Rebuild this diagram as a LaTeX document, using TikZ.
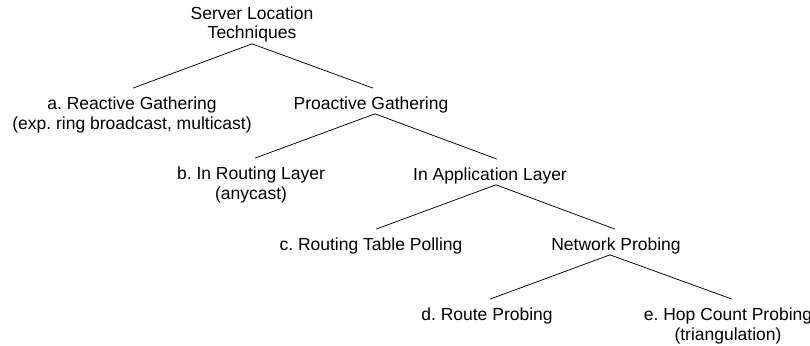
\documentclass[tikz,border=0pt]{standalone}
\usepackage{fontspec}
\setmainfont{Liberation Sans}
\frenchspacing
\begin{document}
\begin{tikzpicture}[x=1pt,y=-1pt,
  lbl/.style={anchor=base, inner sep=0pt, align=center, font=\fontsize{17.5}{20}\selectfont\frenchspacing},
  edge/.style={line width=0.75pt, black}]
\useasboundingbox (0,0) rectangle (810,345);
\node[lbl] (root) at (252,39) {Server Location\\Techniques};
\node[lbl] (a) at (132,129) {a. Reactive Gathering\\(exp. ring broadcast, multicast)};
\node[lbl] (pro) at (371,109) {Proactive Gathering};
\node[lbl] (b) at (251,199) {b. In Routing Layer\\(anycast)};
\node[lbl] (app) at (490,180) {In Application Layer};
\node[lbl] (c) at (371,250) {c. Routing Table Polling};
\node[lbl] (net) at (616,250) {Network Probing};
\node[lbl] (d) at (487,320) {d. Route Probing};
\node[lbl] (e) at (728,340) {e. Hop Count Probing\\(triangulation)};
\draw[edge] ([yshift=-1pt]root.south) -- ([xshift=1pt,yshift=8pt]a.north);
\draw[edge] ([yshift=-1pt]root.south) -- ([xshift=2pt,yshift=8pt]pro.north);
\draw[edge] ([xshift=4pt,yshift=-1pt]pro.south) -- ([xshift=4pt,yshift=8pt]b.north);
\draw[edge] ([xshift=4pt,yshift=-1pt]pro.south) -- ([xshift=7pt,yshift=8pt]app.north);
\draw[edge] ([xshift=6pt,yshift=-1pt]app.south) -- ([xshift=5pt,yshift=8pt]c.north);
\draw[edge] ([xshift=6pt,yshift=-1pt]app.south) -- ([xshift=-1pt,yshift=8pt]net.north);
\draw[edge] ([xshift=-6pt,yshift=-1pt]net.south) -- ([xshift=3pt,yshift=8pt]d.north);
\draw[edge] ([xshift=-6pt,yshift=-1pt]net.south) -- ([xshift=4pt,yshift=8pt]e.north);
\end{tikzpicture}
\end{document}
